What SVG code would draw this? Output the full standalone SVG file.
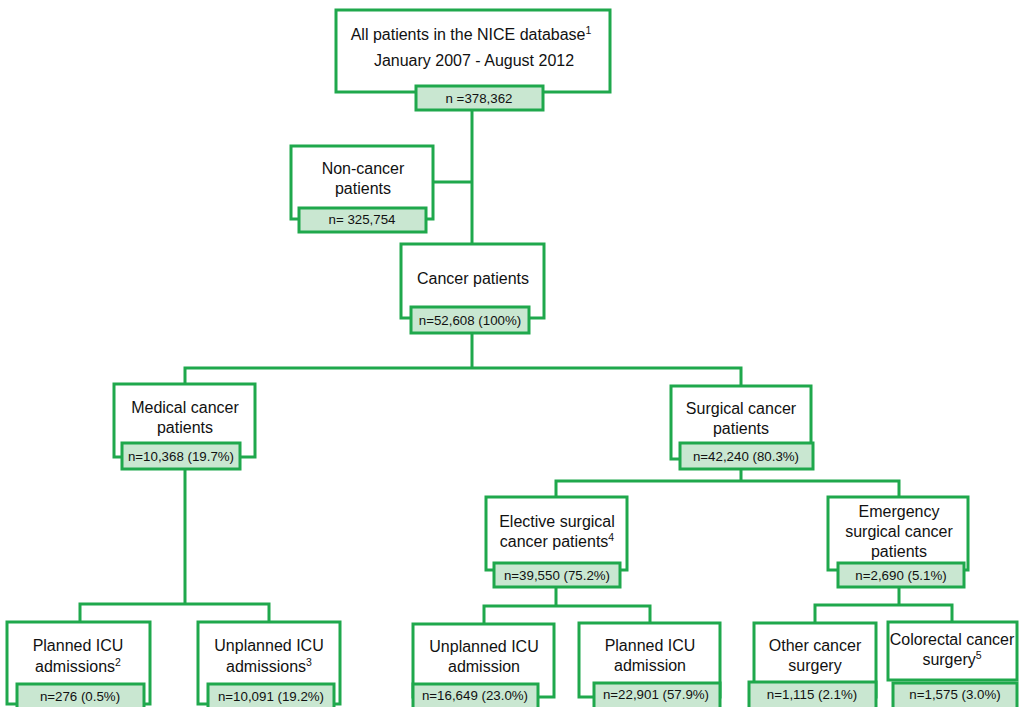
<svg xmlns="http://www.w3.org/2000/svg" width="1024" height="707" viewBox="0 0 1024 707">
<style>
.box{fill:#fff;stroke:#1fa84c;stroke-width:3}
.cnt{fill:#c9e7d1;stroke:#1fa84c;stroke-width:3}
.t{font-family:"Liberation Sans",Arial,sans-serif;font-size:16px;fill:#111;text-anchor:middle}
.c{font-family:"Liberation Sans",Arial,sans-serif;font-size:13.3px;fill:#111;text-anchor:middle}
.sup{font-size:10.5px}
.ln{fill:none;stroke:#1fa84c;stroke-width:3}
</style>
<rect width="1024" height="707" fill="#fff"/>
<g id="connectors">
<path class="ln" d="M472 110V244"/>
<path class="ln" d="M433 182H472"/>
<path class="ln" d="M472 333V368M185 384V368H741V386"/>
<path class="ln" d="M185 469V604M80 622V604H269V622"/>
<path class="ln" d="M741 469V481M556 497V481H899V497"/>
<path class="ln" d="M556 587V606M484 624V606H650V623"/>
<path class="ln" d="M899 587V605M815 623V605H952V622"/>
</g>
<g id="n-all">
<rect class="box" x="336" y="10" width="274" height="82"/>
<text class="t" x="471" y="40">All patients in the NICE database<tspan class="sup" dy="-6">1</tspan></text>
<text class="t" x="474" y="66">January 2007 - August 2012</text>
<rect class="cnt" x="416" y="86" width="127" height="24"/>
<text class="c" x="479" y="103">n =378,362</text>
</g>
<g id="n-noncancer">
<rect class="box" x="291" y="146" width="142" height="73"/>
<text class="t" x="363" y="174">Non-cancer</text>
<text class="t" x="363" y="194">patients</text>
<rect class="cnt" x="299" y="208" width="127" height="24"/>
<text class="c" x="362" y="224">n= 325,754</text>
</g>
<g id="n-cancer">
<rect class="box" x="401" y="244" width="143" height="74"/>
<text class="t" x="473" y="284">Cancer patients</text>
<rect class="cnt" x="411" y="307" width="118" height="26"/>
<text class="c" x="470" y="325">n=52,608 (100%)</text>
</g>
<g id="n-medical">
<rect class="box" x="114" y="384" width="141" height="73"/>
<text class="t" x="185" y="413">Medical cancer</text>
<text class="t" x="185" y="433">patients</text>
<rect class="cnt" x="122" y="443" width="118" height="26"/>
<text class="c" x="181" y="461">n=10,368 (19.7%)</text>
</g>
<g id="n-surgical">
<rect class="box" x="671" y="386" width="140" height="73"/>
<text class="t" x="741" y="414">Surgical cancer</text>
<text class="t" x="741" y="434">patients</text>
<rect class="cnt" x="680" y="443" width="133" height="26"/>
<text class="c" x="746" y="461">n=42,240 (80.3%)</text>
</g>
<g id="n-elective">
<rect class="box" x="486" y="497" width="141" height="73"/>
<text class="t" x="557" y="527">Elective surgical</text>
<text class="t" x="557" y="547">cancer patients<tspan class="sup" dy="-6">4</tspan></text>
<rect class="cnt" x="494" y="563" width="126" height="24"/>
<text class="c" x="557" y="580">n=39,550 (75.2%)</text>
</g>
<g id="n-emergency">
<rect class="box" x="828" y="497" width="140" height="73"/>
<text class="t" x="899" y="517">Emergency</text>
<text class="t" x="899" y="537">surgical cancer</text>
<text class="t" x="899" y="557">patients</text>
<rect class="cnt" x="838" y="563" width="126" height="24"/>
<text class="c" x="901" y="580">n=2,690 (5.1%)</text>
</g>
<g id="n-planned-med">
<rect class="box" x="7" y="622" width="143" height="82"/>
<text class="t" x="78" y="651">Planned ICU</text>
<text class="t" x="78" y="672">admissions<tspan class="sup" dy="-6">2</tspan></text>
<rect class="cnt" x="17" y="684" width="127" height="26"/>
<text class="c" x="80" y="701">n=276 (0.5%)</text>
</g>
<g id="n-unplanned-med">
<rect class="box" x="198" y="622" width="142" height="82"/>
<text class="t" x="269" y="651">Unplanned ICU</text>
<text class="t" x="269" y="672">admissions<tspan class="sup" dy="-6">3</tspan></text>
<rect class="cnt" x="208" y="684" width="126" height="26"/>
<text class="c" x="271" y="701">n=10,091 (19.2%)</text>
</g>
<g id="n-unplanned-surg">
<rect class="box" x="413" y="624" width="141" height="73"/>
<text class="t" x="484" y="652">Unplanned ICU</text>
<text class="t" x="484" y="672">admission</text>
<rect class="cnt" x="413" y="684" width="125" height="26"/>
<text class="c" x="475" y="700">n=16,649 (23.0%)</text>
</g>
<g id="n-planned-surg">
<rect class="box" x="579" y="623" width="141" height="74"/>
<text class="t" x="650" y="651">Planned ICU</text>
<text class="t" x="650" y="671">admission</text>
<rect class="cnt" x="594" y="683" width="126" height="26"/>
<text class="c" x="656" y="699">n=22,901 (57.9%)</text>
</g>
<g id="n-other">
<rect class="box" x="754" y="623" width="122" height="74"/>
<text class="t" x="815" y="651">Other cancer</text>
<text class="t" x="815" y="671">surgery</text>
<rect class="cnt" x="749" y="682" width="127" height="28"/>
<text class="c" x="812" y="699">n=1,115 (2.1%)</text>
</g>
<g id="n-colorectal">
<rect class="box" x="888" y="622" width="129" height="58"/>
<text class="t" x="952" y="645">Colorectal cancer</text>
<text class="t" x="952" y="665">surgery<tspan class="sup" dy="-6">5</tspan></text>
<rect class="cnt" x="893" y="683" width="124" height="27"/>
<text class="c" x="955" y="699">n=1,575 (3.0%)</text>
</g>
</svg>
